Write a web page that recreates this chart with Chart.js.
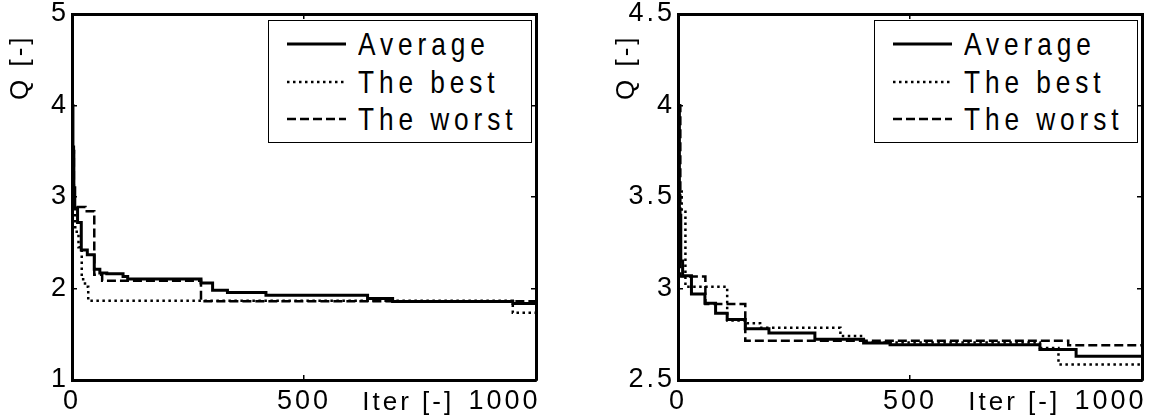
<!DOCTYPE html>
<html>
<head>
<meta charset="utf-8">
<script src="https://cdn.jsdelivr.net/npm/chart.js@4.4.1/dist/chart.umd.min.js"></script>
<style>
  html, body { margin: 0; padding: 0; background: #fff; }
  body { width: 1173px; height: 419px; position: relative; overflow: hidden;
         font-family: "Liberation Sans", Arial, sans-serif; }
  .panel { position: absolute; top: 0; width: 567px; height: 419px; }
  .panel canvas { position: absolute; left: 0; top: 0; }
  .legend { position: absolute; top: 20px; left: 268px; width: 264px; height: 123px;
            border: 1px solid #000; box-sizing: border-box; background: #fff; }
  .legend .row { position: absolute; left: 0; height: 36px; width: 100%; display: flex; align-items: center; }
  .legend svg { position: absolute; left: 18px; }
  .legend span { position: absolute; left: 89px; font-size: 32px; letter-spacing: 6px; white-space: nowrap;
                 color: #000; transform: scaleX(0.82); transform-origin: 0 50%; }
</style>
</head>
<body>
<div class="panel" style="left:0px"><canvas id="c1" width="567" height="419"></canvas><div class="legend" id="lg1"></div></div>
<div class="panel" style="left:606px"><canvas id="c2" width="567" height="419"></canvas><div class="legend" id="lg2"></div></div>
<script>
// left panel: iteration where each level starts, and the level
var leftAvgIter = [0, 2, 4, 6, 12, 20, 33, 48, 60, 75, 110, 120, 278, 303, 335, 418, 637, 691, 950, 1000];
var leftAvgQ    = [4.0, 3.5, 3.1, 2.88, 2.72, 2.42, 2.37, 2.21, 2.17, 2.16, 2.13, 2.105, 2.06, 1.98, 1.955, 1.925, 1.89, 1.858, 1.835, 1.835];
var leftBestIter = [0, 3, 7, 14, 21, 28, 35, 950, 1000];
var leftBestQ    = [3.5, 2.9, 2.62, 2.45, 2.1, 2.02, 1.865, 1.735, 1.735];
var leftWorstIter = [0, 4, 29, 48, 65, 278, 1000];
var leftWorstQ    = [3.55, 2.89, 2.845, 2.15, 2.085, 1.86, 1.86];

// right panel
var rightAvgIter = [0, 3, 6, 10, 29, 58, 81, 106, 145, 196, 295, 400, 457, 780, 858, 1000];
var rightAvgQ    = [4.0, 3.4, 3.15, 3.07, 2.97, 2.92, 2.865, 2.83, 2.78, 2.757, 2.722, 2.702, 2.692, 2.667, 2.63, 2.63];
var rightBestIter = [0, 8, 16, 106, 148, 177, 350, 400, 780, 820, 1000];
var rightBestQ    = [3.55, 3.42, 3.01, 2.825, 2.81, 2.785, 2.74, 2.705, 2.675, 2.585, 2.585];
var rightWorstIter = [0, 5, 59, 145, 841, 1000];
var rightWorstQ    = [4.0, 3.065, 2.915, 2.715, 2.69, 2.69];

var seriesNames = ['Average', 'The best', 'The worst'];
var xTicks = [0, 500, 1000];
var leftYTicks = [1, 2, 3, 4, 5];
var rightYTicks = [2.5, 3, 3.5, 4, 4.5];

var FONT = '"Liberation Sans", Arial, sans-serif';

function pts(xs, ys) {
    return xs.map(function (x, i) { return { x: x, y: ys[i] }; });
}

var spacing = {
    id: 'spacing',
    beforeUpdate: function (c) { c.ctx.letterSpacing = '3px'; },
    beforeDraw: function (c) { c.ctx.letterSpacing = '3px'; }
};

function lineSet(label, data, dash, width) {
    return {
        label: label,
        data: data,
        borderColor: '#000',
        backgroundColor: '#000',
        borderWidth: width,
        borderDash: dash,
        stepped: 'before',
        pointRadius: 0,
        fill: false
    };
}

function fixed(list) {
    return function (s) { s.ticks = list.map(function (v) { return { value: v }; }); };
}

function CreateChart(id, legendId, avg, best, worst, yTicks) {
    var yMin = yTicks[0], yMax = yTicks[yTicks.length - 1];
    var gridOpts = { drawOnChartArea: false, color: '#000', lineWidth: 1.5, tickLength: -5 };
    var borderOpts = { color: '#000', width: 3 };

    var chart = new Chart(document.getElementById(id), {
        type: 'line',
        data: {
            datasets: [
                lineSet(seriesNames[0], avg, [], 3),
                lineSet(seriesNames[1], best, [2.5, 3.5], 2.5),
                lineSet(seriesNames[2], worst, [9, 4], 2.5)
            ]
        },
        options: {
            responsive: false,
            animation: false,
            devicePixelRatio: 1,
            layout: { padding: { top: 14, right: 31, left: 0, bottom: 0 } },
            plugins: { legend: { display: false }, tooltip: { enabled: false } },
            scales: {
                x: {
                    type: 'linear', position: 'bottom', min: xTicks[0], max: xTicks[2],
                    afterBuildTicks: fixed(xTicks),
                    ticks: {
                        color: '#000', font: { family: FONT, size: 27 }, padding: 10,
                        maxRotation: 0, autoSkip: false,
                        callback: function (v) { return v === 1000 ? '1000      ' : String(v); }
                    },
                    grid: gridOpts, border: borderOpts,
                    title: { display: true, text: 'Iter [-]        ', align: 'end', color: '#000',
                             font: { family: FONT, size: 26 }, padding: { top: 0, bottom: 1 } },
                    afterFit: function (s) { s.height = 39; s.paddingLeft = 0; s.paddingRight = 0; }
                },
                x2: {
                    type: 'linear', position: 'top', min: xTicks[0], max: xTicks[2],
                    afterBuildTicks: fixed(xTicks),
                    ticks: { display: false }, grid: gridOpts, border: borderOpts,
                    afterFit: function (s) { s.height = 0; s.paddingLeft = 0; s.paddingRight = 0; }
                },
                y: {
                    type: 'linear', position: 'left', min: yMin, max: yMax,
                    afterBuildTicks: fixed(yTicks),
                    ticks: { color: '#000', font: { family: FONT, size: 27 }, padding: 8,
                             callback: function (v) { return String(v); } },
                    grid: gridOpts, border: borderOpts,
                    title: { display: true, text: 'Q [-]  ', align: 'end', color: '#000',
                             font: { family: FONT, size: 26 }, padding: { top: 5, bottom: 0 } },
                    afterFit: function (s) { s.width = 72; s.paddingTop = 0; s.paddingBottom = 0; }
                },
                y2: {
                    type: 'linear', position: 'right', min: yMin, max: yMax,
                    afterBuildTicks: fixed(yTicks),
                    ticks: { display: false }, grid: gridOpts, border: borderOpts,
                    afterFit: function (s) { s.width = 0; s.paddingTop = 0; s.paddingBottom = 0; }
                }
            }
        },
        plugins: [spacing]
    });

    // legend box built from the chart's datasets
    var box = document.getElementById(legendId);
    var centers = [23, 61, 98];
    chart.data.datasets.forEach(function (ds, i) {
        var row = document.createElement('div');
        row.className = 'row';
        row.style.top = (centers[i] - 18) + 'px';
        var dash = (ds.borderDash || []).join(' ');
        row.innerHTML = '<svg width="60" height="6"><line x1="0" y1="3" x2="59" y2="3" stroke="#000" stroke-width="' +
            ds.borderWidth + '"' + (dash ? ' stroke-dasharray="' + dash + '"' : '') + '/></svg><span>' + ds.label + '</span>';
        box.appendChild(row);
    });
    return chart;
}

CreateChart('c1', 'lg1', pts(leftAvgIter, leftAvgQ), pts(leftBestIter, leftBestQ), pts(leftWorstIter, leftWorstQ), leftYTicks);
CreateChart('c2', 'lg2', pts(rightAvgIter, rightAvgQ), pts(rightBestIter, rightBestQ), pts(rightWorstIter, rightWorstQ), rightYTicks);
</script>
</body>
</html>
